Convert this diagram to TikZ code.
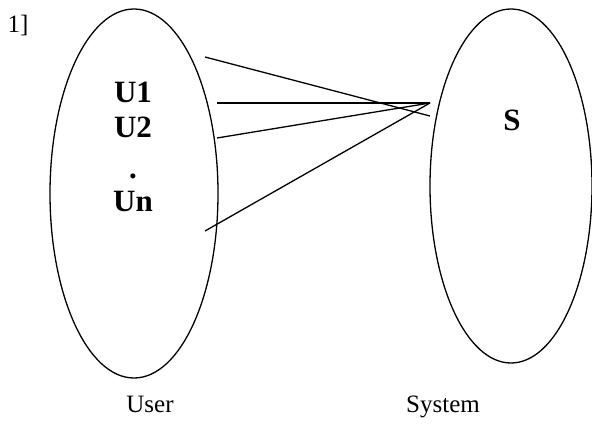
\documentclass[tikz,border=0pt]{standalone}
\usepackage{fontspec}
\setmainfont{Liberation Serif}
\usetikzlibrary{shapes.geometric}

\begin{document}
\begin{tikzpicture}[x=1pt, y=-1pt, line width=1.3pt,
    set/.style={draw, ellipse, inner sep=0pt},
    member/.style={font=\fontsize{31}{31}\selectfont\bfseries, inner sep=0pt, anchor=base},
    caption/.style={font=\fontsize{25}{25}\selectfont, inner sep=0pt, anchor=base}]
    \useasboundingbox (0,0) rectangle (592,434);
    \node[caption] (num) at (18, 32) {1]};
    % the two sets
    \node[set, minimum width=168pt, minimum height=369pt] (user) at (134, 193.5) {};
    \node[set, minimum width=162pt, minimum height=354pt] (system) at (511, 186) {};
    \node[member] (u1) at (133, 102) {U1};
    \node[member] (u2) at (133, 137) {U2};
    \node[member] (dots) at (133, 178) {.};
    \node[member] (un) at (133, 211) {Un};
    \node[member] (s) at (512, 130) {S};
    \node[caption] (userlabel) at (150, 412) {User};
    \node[caption] (syslabel) at (443, 412) {System};
    % mapping lines
    \coordinate (hub) at (430, 103);
    \coordinate (a1) at (205, 57);
    \coordinate (a1end) at (430, 116);
    \coordinate (a2) at (217, 103);
    \coordinate (a3) at (217, 138);
    \coordinate (a4) at (205, 231);
    \draw (a1) -- (a1end);
    \draw (a2) -- (hub);
    \draw (a3) -- (hub);
    \draw (a4) -- (hub);
\end{tikzpicture}
\end{document}
